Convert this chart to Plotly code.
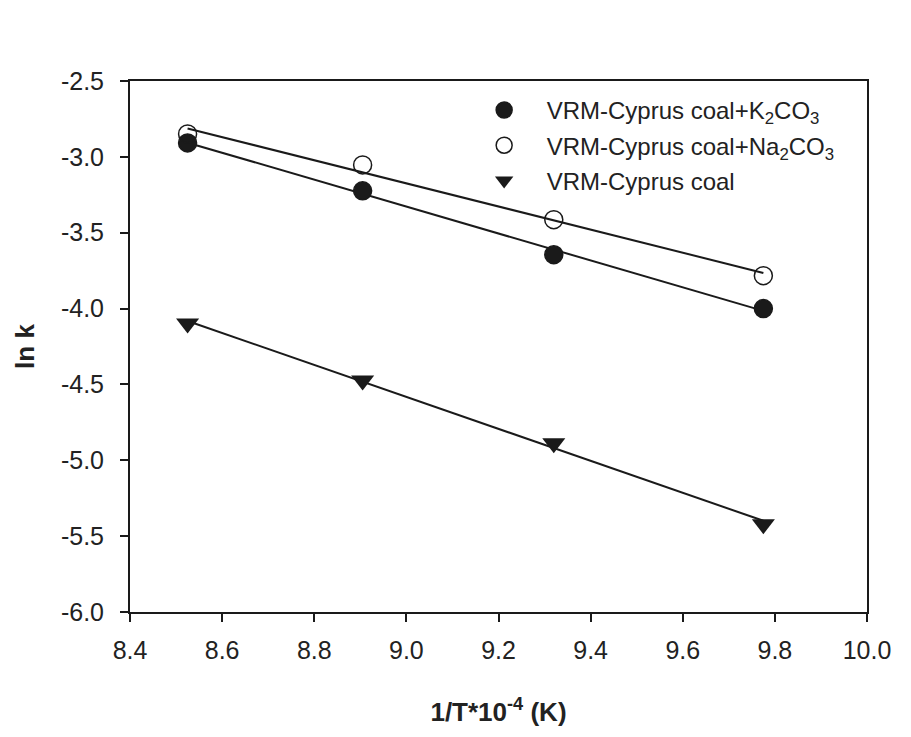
import numpy as np
import plotly.graph_objects as go

inv_T = [8.525, 8.905, 9.320, 9.775]
lnk_k2co3 = [-2.908, -3.224, -3.645, -4.000]
lnk_na2co3 = [-2.849, -3.053, -3.414, -3.783]
lnk_coal = [-4.099, -4.474, -4.888, -5.421]

names = ["VRM-Cyprus coal+K<sub>2</sub>CO<sub>3</sub>",
         "VRM-Cyprus coal+Na<sub>2</sub>CO<sub>3</sub>",
         "VRM-Cyprus coal"]
x_ticks = [8.4, 8.6, 8.8, 9.0, 9.2, 9.4, 9.6, 9.8, 10.0]
y_ticks = [-2.5, -3.0, -3.5, -4.0, -4.5, -5.0, -5.5, -6.0]

ink = "#1a1a1a"
txt = "#222222"
font_family = "Liberation Sans, Arial"
fig = go.Figure()

series = [
    (lnk_k2co3, dict(symbol="circle", size=18, color=ink, line=dict(color=ink, width=1.5))),
    (lnk_na2co3, dict(symbol="circle-open", size=18, color=ink, line=dict(color=ink, width=1.5))),
    (lnk_coal, dict(symbol="triangle-down", size=20, color=ink, line=dict(color=ink, width=0))),
]

xarr = np.array(inv_T)
for ys, _ in series:
    a, b = np.polyfit(xarr, np.array(ys), 1)
    xl = np.array([xarr.min(), xarr.max()])
    fig.add_trace(go.Scatter(x=xl, y=a * xl + b, mode="lines",
                             line=dict(color=ink, width=2), showlegend=False,
                             hoverinfo="skip"))

for i, ((ys, mk), nm) in enumerate(zip(series, names)):
    fig.add_trace(go.Scatter(x=inv_T, y=ys, mode="markers", name=nm, marker=mk,
                             legendgroup=f"g{i}"))

axis_common = dict(showline=True, linecolor=ink, linewidth=2, mirror=True,
                   ticks="outside", ticklen=8, tickwidth=2, tickcolor=ink,
                   showgrid=False, zeroline=False,
                   tickfont=dict(family=font_family, size=25, color=txt))

fig.update_xaxes(range=[8.4, 10.0], tickvals=x_ticks,
                 ticktext=[f"{v:.1f}" for v in x_ticks],
                 title=dict(text="<b>1/T*10<sup>-4</sup> (K)</b>",
                            font=dict(family=font_family, size=26, color=txt),
                            standoff=40),
                 ticklabelstandoff=7, **axis_common)
fig.update_yaxes(range=[-6.0, -2.5], tickvals=y_ticks,
                 ticktext=[f"{v:.1f}" for v in y_ticks],
                 title=dict(text="<b>ln k</b>",
                            font=dict(family=font_family, size=26, color=txt),
                            standoff=19),
                 ticklabelstandoff=11, **axis_common)

fig.update_layout(width=911, height=737,
                  margin=dict(l=122, r=52, t=73, b=133),
                  paper_bgcolor="white", plot_bgcolor="white",
                  legend=dict(x=0.45, y=0.987, xanchor="left", yanchor="top",
                              bgcolor="rgba(0,0,0,0)",
                              font=dict(family=font_family, size=24, color=txt),
                              tracegroupgap=1, itemwidth=75),
                  showlegend=True)

fig.write_html("out.html")
